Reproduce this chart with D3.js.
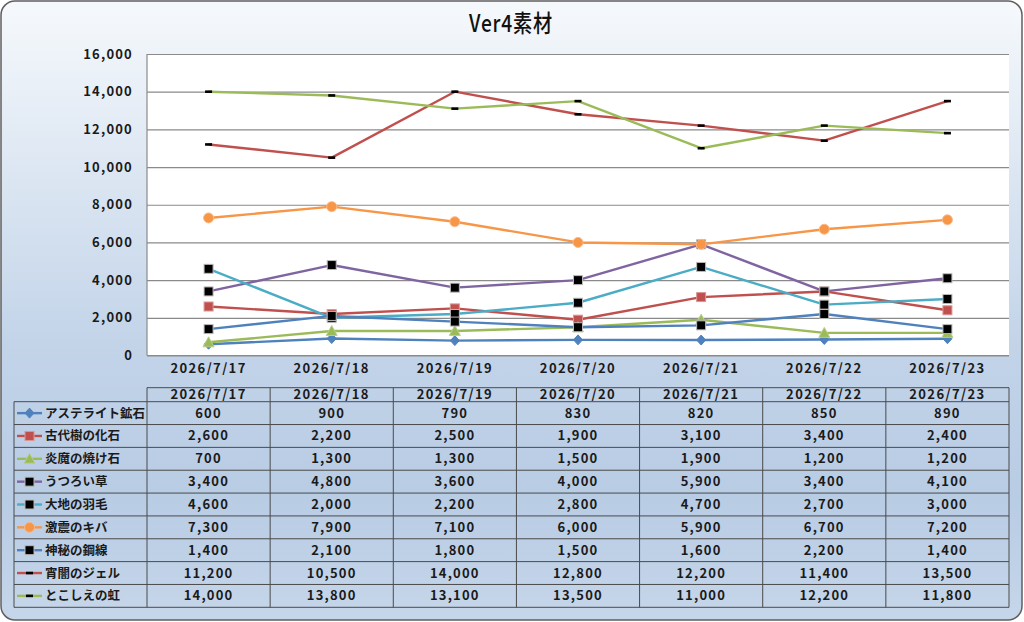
<!DOCTYPE html>
<html>
<head>
<meta charset="utf-8">
<script src="https://cdn.jsdelivr.net/npm/d3@7"></script>
<style>
  html, body { margin: 0; padding: 0; background: #fff; }
  svg { display: block; font-family: "Noto Sans CJK JP", "Noto Sans", sans-serif; }
</style>
</head>
<body>
<svg width="1024" height="622"></svg>
<script>
const title = "Ver4素材";
const dates = ["2026/7/17", "2026/7/18", "2026/7/19", "2026/7/20", "2026/7/21", "2026/7/22", "2026/7/23"];
const seriesNames = ["アステライト鉱石", "古代樹の化石", "炎魔の焼け石", "うつろい草", "大地の羽毛", "激震のキバ", "神秘の鋼線", "宵闇のジェル", "とこしえの虹"];
const astelite = [600, 900, 790, 830, 820, 850, 890];
const kodaiju = [2600, 2200, 2500, 1900, 3100, 3400, 2400];
const enma = [700, 1300, 1300, 1500, 1900, 1200, 1200];
const utsuroi = [3400, 4800, 3600, 4000, 5900, 3400, 4100];
const daichi = [4600, 2000, 2200, 2800, 4700, 2700, 3000];
const gekishin = [7300, 7900, 7100, 6000, 5900, 6700, 7200];
const shinpi = [1400, 2100, 1800, 1500, 1600, 2200, 1400];
const yoiyami = [11200, 10500, 14000, 12800, 12200, 11400, 13500];
const tokoshie = [14000, 13800, 13100, 13500, 11000, 12200, 11800];
const yTicks = [0, 2000, 4000, 6000, 8000, 10000, 12000, 14000, 16000];

document.addEventListener("DOMContentLoaded", function () {
  const svg = d3.select("svg");
  const width = +svg.attr("width");
  const height = +svg.attr("height");

  const seriesValues = [astelite, kodaiju, enma, utsuroi, daichi, gekishin, shinpi, yoiyami, tokoshie];
  const lineColors = ["#4f81bd", "#c0504d", "#9bbb59", "#8064a2", "#4bacc6", "#f79646", "#4f81bd", "#c0504d", "#9bbb59"];
  const markerKinds = ["diamond", "square", "triangle", "black", "black", "circle", "black", "dash", "dash"];
  const series = seriesNames.map((name, i) => ({
    name: name, values: seriesValues[i], color: lineColors[i], marker: markerKinds[i]
  }));

  // background panel
  const defs = svg.append("defs");
  const grad = defs.append("linearGradient").attr("id", "bg").attr("x1", 0).attr("y1", 0).attr("x2", 0).attr("y2", 1);
  grad.append("stop").attr("offset", "0%").attr("stop-color", "#f6f9fc");
  grad.append("stop").attr("offset", "55%").attr("stop-color", "#c3d4e9");
  grad.append("stop").attr("offset", "80%").attr("stop-color", "#b8cce4");
  grad.append("stop").attr("offset", "100%").attr("stop-color", "#c6d6ea");

  svg.append("rect")
    .attr("x", 1).attr("y", 1).attr("width", width - 3).attr("height", height - 3)
    .attr("rx", 14)
    .attr("fill", "url(#bg)")
    .attr("stroke", "#5f5f5f").attr("stroke-width", 1.5);

  svg.append("text")
    .attr("transform", "translate(511,32) scale(0.8,1)")
    .attr("text-anchor", "middle")
    .attr("font-size", 24)
    .attr("font-weight", "500")
    .attr("letter-spacing", 1)
    .attr("fill", "#111")
    .text(title);

  const plotLeft = 147, plotRight = 1009, plotTop = 54, plotBottom = 355.5;

  const x = d3.scaleBand().domain(dates).range([plotLeft, plotRight]);
  const cx = d => x(d) + x.bandwidth() / 2;
  const y = d3.scaleLinear().domain([0, 16000]).range([plotBottom, plotTop]);

  svg.append("rect")
    .attr("x", plotLeft).attr("y", plotTop)
    .attr("width", plotRight - plotLeft).attr("height", plotBottom - plotTop)
    .attr("fill", "#fff");

  // gridlines
  const yAxis = d3.axisLeft(y).tickValues(yTicks).tickSize(-(plotRight - plotLeft)).tickFormat(d3.format(","));
  const yg = svg.append("g").attr("transform", `translate(${plotLeft},0)`).call(yAxis);
  yg.select(".domain").remove();
  yg.selectAll(".tick line").attr("stroke", "#8a8a8a").attr("stroke-width", 1.2);
  yg.selectAll(".tick text")
    .attr("x", -14)
    .attr("font-size", 13).attr("font-weight", "bold")
    .attr("letter-spacing", 1.2)
    .attr("font-family", "\"Noto Sans CJK JP\", sans-serif")
    .attr("fill", "#1a1a1a");

  svg.append("line")
    .attr("x1", plotLeft).attr("x2", plotLeft).attr("y1", plotTop).attr("y2", plotBottom)
    .attr("stroke", "#8a8a8a").attr("stroke-width", 1.2);

  // x labels
  svg.append("g").selectAll("text")
    .data(dates).enter().append("text")
    .attr("x", d => cx(d)).attr("y", 373)
    .attr("text-anchor", "middle")
    .attr("font-size", 13).attr("font-weight", "bold").attr("fill", "#1a1a1a")
    .attr("letter-spacing", 1.4)
    .text(d => d);

  const line = d3.line().x((v, i) => cx(dates[i])).y(v => y(v));

  function drawMarker(g, kind, color, px, py) {
    if (kind === "diamond") {
      g.append("path")
        .attr("d", `M${px},${py - 5}L${px + 4.5},${py}L${px},${py + 5}L${px - 4.5},${py}Z`)
        .attr("fill", color).attr("stroke", color);
    } else if (kind === "square") {
      g.append("rect").attr("x", px - 4.5).attr("y", py - 4.5).attr("width", 9).attr("height", 9)
        .attr("fill", color).attr("stroke", "#d99694").attr("stroke-width", 1);
    } else if (kind === "triangle") {
      g.append("path")
        .attr("d", `M${px},${py - 5.5}L${px + 5.5},${py + 4.5}L${px - 5.5},${py + 4.5}Z`)
        .attr("fill", color).attr("stroke", "#b9cf8d").attr("stroke-width", 1);
    } else if (kind === "circle") {
      g.append("circle").attr("cx", px).attr("cy", py).attr("r", 5)
        .attr("fill", color).attr("stroke", "#f9b98a").attr("stroke-width", 1);
    } else if (kind === "black") {
      g.append("rect").attr("x", px - 4.5).attr("y", py - 4.5).attr("width", 9).attr("height", 9)
        .attr("fill", "#000").attr("stroke", "#bbb").attr("stroke-width", 1);
    } else if (kind === "dash") {
      g.append("rect").attr("x", px - 3.5).attr("y", py - 1.3).attr("width", 7).attr("height", 2.6)
        .attr("fill", "#000");
    }
  }

  const plotG = svg.append("g");
  series.forEach(s => {
    const g = plotG.append("g");
    g.append("path")
      .attr("d", line(s.values))
      .attr("fill", "none")
      .attr("stroke", s.color)
      .attr("stroke-width", 2.4)
      .attr("stroke-linejoin", "round");
    s.values.forEach((v, i) => drawMarker(g, s.marker, s.color, cx(dates[i]), y(v)));
  });

  svg.append("line")
    .attr("x1", plotLeft).attr("x2", plotRight).attr("y1", plotBottom).attr("y2", plotBottom)
    .attr("stroke", "#8a8a8a").attr("stroke-width", 1.2);

  // data table
  const tableTop = 387.7, headerBottom = 401.7, tableBottom = 607.3, legendLeft = 14;
  const rowH = (tableBottom - headerBottom) / series.length;
  const tableStroke = "#4a4a4a";
  const tg = svg.append("g");

  tg.append("line").attr("x1", plotLeft).attr("x2", plotRight).attr("y1", tableTop).attr("y2", tableTop)
    .attr("stroke", tableStroke);
  for (let r = 0; r <= series.length; r++) {
    const yy = headerBottom + r * rowH;
    tg.append("line").attr("x1", legendLeft).attr("x2", plotRight).attr("y1", yy).attr("y2", yy)
      .attr("stroke", tableStroke);
  }
  tg.append("line").attr("x1", legendLeft).attr("x2", legendLeft).attr("y1", headerBottom).attr("y2", tableBottom)
    .attr("stroke", tableStroke);
  const colEdges = dates.map(d => x(d)).concat([plotRight]);
  colEdges.forEach(xx => {
    tg.append("line").attr("x1", xx).attr("x2", xx).attr("y1", tableTop).attr("y2", tableBottom)
      .attr("stroke", tableStroke);
  });

  tg.selectAll("text.hdr")
    .data(dates).enter().append("text")
    .attr("class", "hdr")
    .attr("x", d => cx(d)).attr("y", 399)
    .attr("text-anchor", "middle")
    .attr("font-size", 13).attr("font-weight", "bold").attr("fill", "#1a1a1a")
    .attr("letter-spacing", 1.4)
    .text(d => d);

  const fmt = d3.format(",");
  series.forEach((s, r) => {
    const cy = headerBottom + r * rowH + rowH / 2;
    const lg = tg.append("g");
    lg.append("line").attr("x1", 17).attr("x2", 42).attr("y1", cy).attr("y2", cy)
      .attr("stroke", s.color).attr("stroke-width", 2.4);
    drawMarker(lg, s.marker, s.color, 29.5, cy);
    lg.append("text")
      .attr("x", 45).attr("y", cy + 4.5)
      .attr("font-size", 12.5).attr("font-weight", "bold").attr("fill", "#1a1a1a")
      .text(s.name);
    s.values.forEach((v, i) => {
      tg.append("text")
        .attr("x", cx(dates[i])).attr("y", cy + 4.5)
        .attr("text-anchor", "middle")
        .attr("font-size", 13).attr("font-weight", "bold").attr("fill", "#1a1a1a")
        .attr("letter-spacing", 1.2)
        .text(fmt(v));
    });
  });
});
</script>
</body>
</html>
